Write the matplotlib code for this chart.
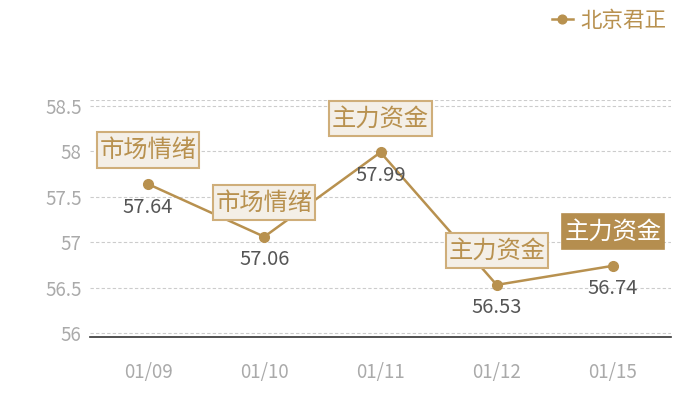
import matplotlib
matplotlib.use("Agg")
import matplotlib.pyplot as plt
from matplotlib.path import Path

plt.rcParams['font.family'] = ['Noto Sans CJK SC', 'DejaVu Sans']

dates = ["01/09", "01/10", "01/11", "01/12", "01/15"]
values = [57.64, 57.06, 57.99, 56.53, 56.74]
tags = ["市场情绪", "市场情绪", "主力资金", "主力资金", "主力资金"]
highlight = [False, False, False, False, True]
series_name = "北京君正"
yticks = [56, 56.5, 57, 57.5, 58, 58.5]
ytick_labels = ["56", "56.5", "57", "57.5", "58", "58.5"]

GOLD = "#b8914f"
BOX_EDGE = "#cfae7a"
BOX_FILL = "#f4efe7"
TEXT_GOLD = "#b8914f"


def tag_box(x0, y0, width, height, mutation_size):
    px = 0.11 * mutation_size
    py = 0.19 * mutation_size
    xa, xb = x0 - px, x0 + width + px
    ya, yb = y0 - py, y0 + height + py
    return Path([(xa, ya), (xb, ya), (xb, yb), (xa, yb), (xa, ya)],
                [Path.MOVETO, Path.LINETO, Path.LINETO, Path.LINETO, Path.CLOSEPOLY])


fig = plt.figure(figsize=(7, 4), dpi=100)
ax = fig.add_axes([90/700, 1-337/400, 581/700, 237/400])

x = list(range(len(dates)))
ax.plot(x, values, color=GOLD, lw=1.8, marker="o", ms=7, zorder=3, label=series_name)

ax.set_xlim(-0.5, len(dates) - 0.5)
ax.set_ylim(55.956, 58.566)
ax.set_yticks(yticks)
ax.set_yticklabels(ytick_labels)
ax.set_xticks(x)
ax.set_xticklabels(dates)

for s in ["top", "right", "left"]:
    ax.spines[s].set_visible(False)
ax.spines["bottom"].set_color("#333333")
ax.spines["bottom"].set_linewidth(1.2)
ax.tick_params(axis="y", length=0, colors="#aaaaaa", labelsize=13.5, pad=6)
ax.tick_params(axis="x", length=0, colors="#aaaaaa", labelsize=13.5, pad=18)

ax.grid(axis="y", color="#cccccc", linestyle=(0, (3, 2)), lw=0.8)
ax.axhline(ax.get_ylim()[1], color="#cccccc", linestyle=(0, (3, 2)), lw=0.8, zorder=0)
ax.set_axisbelow(True)

for xi, v, tag, hl in zip(x, values, tags, highlight):
    ax.annotate(f"{v:.2f}", (xi, v), xytext=(0, -23), textcoords="offset pixels",
                ha="center", va="center", fontsize=14.5, color="#555555", zorder=5)
    if hl:
        bbox = dict(boxstyle=tag_box, fc="#b58e4f", ec="#b58e4f", lw=1.2)
        col = "white"
    else:
        bbox = dict(boxstyle=tag_box, fc=BOX_FILL, ec=BOX_EDGE, lw=1.5)
        col = TEXT_GOLD
    ax.annotate(tag, (xi, v), xytext=(0, 34), textcoords="offset pixels",
                ha="center", va="center", fontsize=17.5, color=col, bbox=bbox, zorder=6)

leg = ax.legend(loc="upper right", bbox_to_anchor=(0.971, 1.008), bbox_transform=fig.transFigure,
                frameon=False, fontsize=15.5, handlelength=1.0, handletextpad=0.35,
                borderaxespad=0.2, markerscale=0.9)
for t in leg.get_texts():
    t.set_color(TEXT_GOLD)

fig.savefig("out.png", dpi=100)
